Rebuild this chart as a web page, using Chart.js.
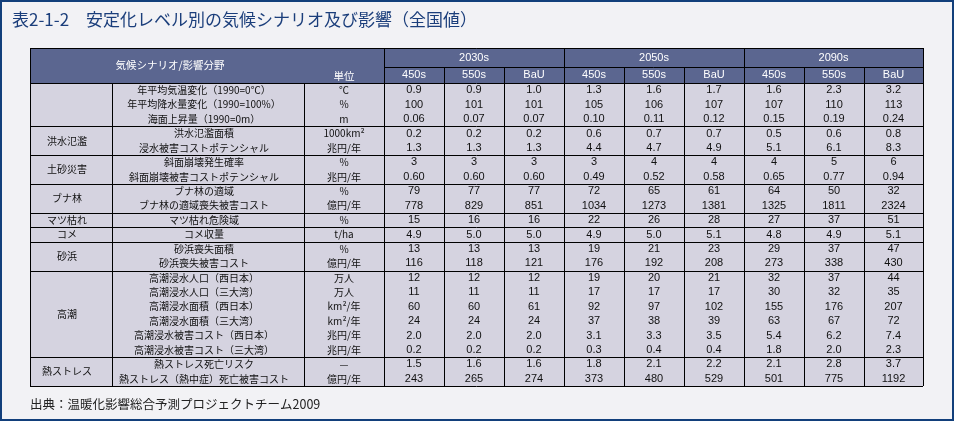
<!DOCTYPE html>
<html lang="ja">
<head>
<meta charset="utf-8">
<title>表2-1-2 安定化レベル別の気候シナリオ及び影響</title>
<script src="https://cdn.jsdelivr.net/npm/chart.js@4.4.1/dist/chart.umd.min.js"></script>
<style>
  html, body { margin: 0; padding: 0; background: #f2f2f5; }
  #wrap { position: relative; width: 954px; height: 421px; }
</style>
</head>
<body>
<div id="wrap"><canvas id="tableChart"></canvas></div>
<script>
const titleText = '表2-1-2　安定化レベル別の気候シナリオ及び影響（全国値）';
const sourceText = '出典：温暖化影響総合予測プロジェクトチーム2009';
const periods = ['2030s', '2050s', '2090s'];
const scenarios = ['450s', '550s', 'BaU'];
const categories = ['', '洪水氾濫', '土砂災害', 'ブナ林', 'マツ枯れ', 'コメ', '砂浜', '高潮', '熱ストレス'];
const categoryRows = [3, 2, 2, 2, 1, 1, 2, 6, 2];
const indicators = [
  '年平均気温変化（1990=0℃）', '年平均降水量変化（1990=100%）', '海面上昇量（1990=0m）',
  '洪水氾濫面積', '浸水被害コストポテンシャル',
  '斜面崩壊発生確率', '斜面崩壊被害コストポテンシャル',
  'ブナ林の適域', 'ブナ林の適域喪失被害コスト',
  'マツ枯れ危険域',
  'コメ収量',
  '砂浜喪失面積', '砂浜喪失被害コスト',
  '高潮浸水人口（西日本）', '高潮浸水人口（三大湾）', '高潮浸水面積（西日本）',
  '高潮浸水面積（三大湾）', '高潮浸水被害コスト（西日本）', '高潮浸水被害コスト（三大湾）',
  '熱ストレス死亡リスク', '熱ストレス（熱中症）死亡被害コスト'
];
const units = [
  '℃', '%', 'm', '1000km²', '兆円/年', '%', '兆円/年', '%', '億円/年', '%', 't/ha',
  '%', '億円/年', '万人', '万人', 'km²/年', 'km²/年', '兆円/年', '兆円/年', '—', '億円/年'
];
const decimals = [1, 0, 2, 1, 1, 0, 2, 0, 0, 0, 1, 0, 0, 0, 0, 0, 0, 1, 1, 1, 0];

// one series per period / scenario column
const v2030_450 = [0.9, 100, 0.06, 0.2, 1.3, 3, 0.60, 79, 778, 15, 4.9, 13, 116, 12, 11, 60, 24, 2.0, 0.2, 1.5, 243];
const v2030_550 = [0.9, 101, 0.07, 0.2, 1.3, 3, 0.60, 77, 829, 16, 5.0, 13, 118, 12, 11, 60, 24, 2.0, 0.2, 1.6, 265];
const v2030_bau = [1.0, 101, 0.07, 0.2, 1.3, 3, 0.60, 77, 851, 16, 5.0, 13, 121, 12, 11, 61, 24, 2.0, 0.2, 1.6, 274];
const v2050_450 = [1.3, 105, 0.10, 0.6, 4.4, 3, 0.49, 72, 1034, 22, 4.9, 19, 176, 19, 17, 92, 37, 3.1, 0.3, 1.8, 373];
const v2050_550 = [1.6, 106, 0.11, 0.7, 4.7, 4, 0.52, 65, 1273, 26, 5.0, 21, 192, 20, 17, 97, 38, 3.3, 0.4, 2.1, 480];
const v2050_bau = [1.7, 107, 0.12, 0.7, 4.9, 4, 0.58, 61, 1381, 28, 5.1, 23, 208, 21, 17, 102, 39, 3.5, 0.4, 2.2, 529];
const v2090_450 = [1.6, 107, 0.15, 0.5, 5.1, 4, 0.65, 64, 1325, 27, 4.8, 29, 273, 32, 30, 155, 63, 5.4, 1.8, 2.1, 501];
const v2090_550 = [2.3, 110, 0.19, 0.6, 6.1, 5, 0.77, 50, 1811, 37, 4.9, 37, 338, 37, 32, 176, 67, 6.2, 2.0, 2.8, 775];
const v2090_bau = [3.2, 113, 0.24, 0.8, 8.3, 6, 0.94, 32, 2324, 51, 5.1, 47, 430, 44, 35, 207, 72, 7.4, 2.3, 3.7, 1192];
const seriesCols = [v2030_450, v2030_550, v2030_bau, v2050_450, v2050_550, v2050_bau, v2090_450, v2090_550, v2090_bau];

// ---- layout (in scale units, 1 unit = 1 px of the page) ----
const W = 954, H = 421;
const colEdges = [30, 112, 304, 384, 444, 504, 564, 624, 684, 744, 804, 864, 923];
const tableTop = 48, headMid = 67, headBottom = 83, tableBottom = 386;
const rowH = (tableBottom - headBottom) / indicators.length;

const FONT_JP = '"Noto Sans CJK JP", "Noto Sans", sans-serif';
const FONT_NUM = '"Liberation Sans", "DejaVu Sans", sans-serif';
const HEAD_BG = '#5b6690';
const CELL_BG = '#d5d3e0';
const PAGE_BG = '#f2f2f5';
const FRAME = '#123f7b';

function rowCenter(r) { return headBottom + rowH * (r + 0.5); }

// value cells as invisible points, one per column x row
const cellPoints = [];
seriesCols.forEach((col, c) => {
  col.forEach((v, r) => {
    cellPoints.push({
      x: (colEdges[c + 3] + colEdges[c + 4]) / 2,
      y: rowCenter(r),
      label: v.toFixed(decimals[r])
    });
  });
});

const tablePlugin = {
  id: 'tablePlugin',
  beforeDraw(chart) {
    const ctx = chart.ctx;
    ctx.save();
    ctx.fillStyle = PAGE_BG;
    ctx.fillRect(0, 0, chart.width, chart.height);
    ctx.strokeStyle = FRAME;
    ctx.lineWidth = 2;
    ctx.strokeRect(1, 1, chart.width - 2, chart.height - 2);
    ctx.restore();
  },
  beforeDatasetsDraw(chart) {
    const ctx = chart.ctx;
    const sx = v => chart.scales.x.getPixelForValue(v);
    const sy = v => chart.scales.y.getPixelForValue(v);
    const L = sx(colEdges[0]), R = sx(colEdges[colEdges.length - 1]);
    ctx.save();

    // title and source
    ctx.textBaseline = 'middle';
    ctx.textAlign = 'left';
    ctx.fillStyle = '#1b3e7b';
    ctx.font = '17px ' + FONT_JP;
    ctx.fillText(titleText, sx(12), sy(20));
    ctx.fillStyle = '#222222';
    ctx.font = '12.5px ' + FONT_JP;
    ctx.fillText(sourceText, sx(30), sy(404));

    // backgrounds
    ctx.fillStyle = HEAD_BG;
    ctx.fillRect(L, sy(tableTop), R - L, sy(headBottom) - sy(tableTop));
    ctx.fillStyle = CELL_BG;
    ctx.fillRect(L, sy(headBottom), R - L, sy(tableBottom) - sy(headBottom));

    // grid lines
    ctx.strokeStyle = '#000000';
    ctx.lineWidth = 1;
    const hline = (y, x0, x1) => {
      const p = Math.round(sy(y)) + 0.5;
      ctx.beginPath(); ctx.moveTo(sx(x0), p); ctx.lineTo(sx(x1), p); ctx.stroke();
    };
    const vline = (x, y0, y1) => {
      const p = Math.round(sx(x)) + 0.5;
      ctx.beginPath(); ctx.moveTo(p, sy(y0)); ctx.lineTo(p, sy(y1)); ctx.stroke();
    };
    hline(tableTop, colEdges[0], colEdges[12]);
    hline(headMid, colEdges[3], colEdges[12]);
    hline(headBottom, colEdges[0], colEdges[12]);
    let r = 0;
    categoryRows.forEach(n => {
      r += n;
      hline(headBottom + rowH * r, colEdges[0], colEdges[12]);
    });
    colEdges.forEach((x, i) => {
      if (i === 0 || i === 3 || i === 6 || i === 9 || i === 12) vline(x, tableTop, tableBottom);
      else if (i > 3) vline(x, headMid, tableBottom);
      else vline(x, headBottom, tableBottom);
    });

    // header texts
    ctx.fillStyle = '#ffffff';
    ctx.textAlign = 'center';
    ctx.font = '10.5px ' + FONT_JP;
    ctx.fillText('気候シナリオ/影響分野', sx(170), sy(65));
    ctx.fillText('単位', sx(344), sy(76));
    ctx.font = '11px ' + FONT_NUM;
    periods.forEach((p, i) => {
      ctx.fillText(p, sx((colEdges[3 + i * 3] + colEdges[6 + i * 3]) / 2), sy((tableTop + headMid) / 2));
    });
    for (let c = 0; c < 9; c++) {
      ctx.fillText(scenarios[c % 3], sx((colEdges[3 + c] + colEdges[4 + c]) / 2), sy((headMid + headBottom) / 2));
    }

    // row labels
    ctx.fillStyle = '#111111';
    ctx.font = '10px ' + FONT_JP;
    let start = 0;
    categories.forEach((cat, g) => {
      const n = categoryRows[g];
      const mid = headBottom + rowH * (start + n / 2);
      ctx.fillText(cat, sx(67), sy(mid));
      start += n;
    });
    indicators.forEach((t, i) => {
      ctx.fillText(t, sx(204), sy(rowCenter(i)));
      ctx.fillText(units[i], sx(344), sy(rowCenter(i)));
    });
    ctx.restore();
  },
  afterDatasetsDraw(chart) {
    const ctx = chart.ctx;
    const meta = chart.getDatasetMeta(0);
    const data = chart.data.datasets[0].data;
    ctx.save();
    ctx.fillStyle = '#111111';
    ctx.font = '11px ' + FONT_NUM;
    ctx.textAlign = 'center';
    ctx.textBaseline = 'middle';
    meta.data.forEach((pt, i) => {
      ctx.fillText(data[i].label, pt.x, pt.y);
    });
    ctx.restore();
  }
};

const tableChart = new Chart(document.getElementById('tableChart').getContext('2d'), {
  type: 'scatter',
  data: {
    datasets: [{
      label: 'values',
      data: cellPoints,
      pointRadius: 0,
      pointHoverRadius: 0
    }]
  },
  options: {
    responsive: true,
    maintainAspectRatio: false,
    animation: false,
    events: [],
    layout: { padding: 0 },
    scales: {
      x: { type: 'linear', min: 0, max: W, display: false },
      y: { type: 'linear', min: 0, max: H, reverse: true, display: false }
    },
    plugins: {
      legend: { display: false },
      tooltip: { enabled: false }
    }
  },
  plugins: [tablePlugin]
});
</script>
</body>
</html>
